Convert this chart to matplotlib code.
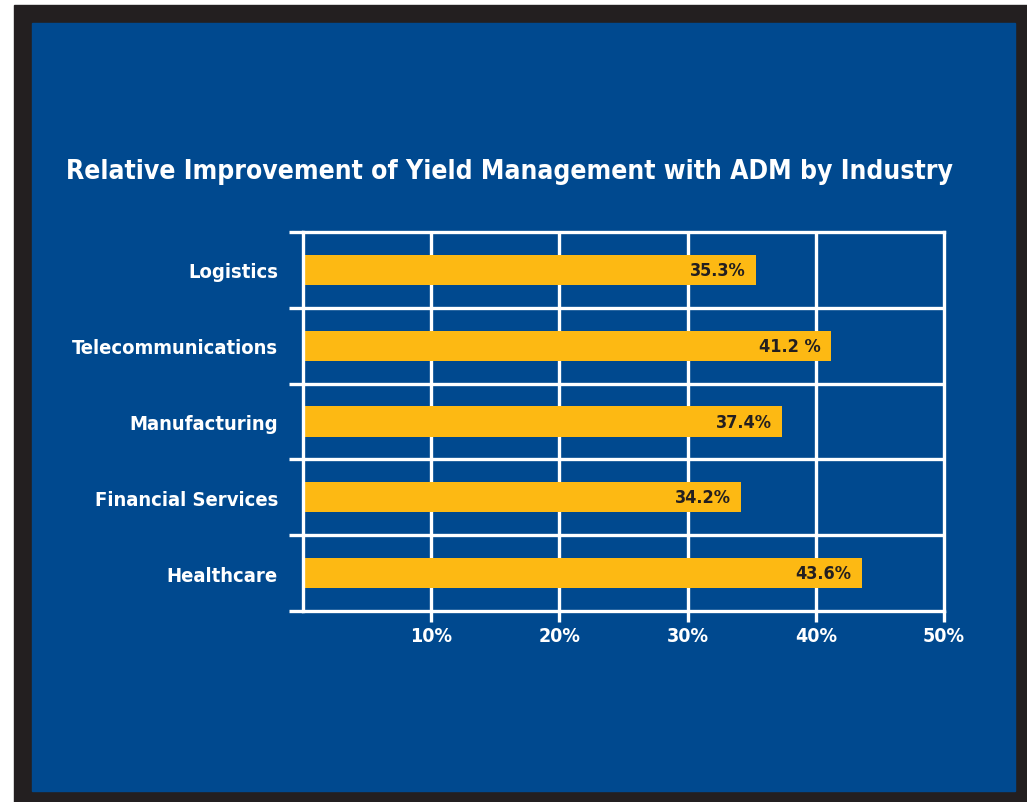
import matplotlib.pyplot as plt
from matplotlib.patches import Rectangle

industries = ['Logistics', 'Telecommunications', 'Manufacturing', 'Financial Services', 'Healthcare']
improvement = [35.3, 41.2, 37.4, 34.2, 43.6]
value_labels = ['35.3%', '41.2 %', '37.4%', '34.2%', '43.6%']
x_ticks = [10, 20, 30, 40, 50]
x_tick_labels = ['10%', '20%', '30%', '40%', '50%']

blue = '#00498f'
gold = '#fdb913'
dark = '#231f20'
font = ['DejaVu Sans']
stretch = 'condensed'

W, H = 1027, 803
fig = plt.figure(figsize=(W / 100, H / 100), dpi=100)
fig.patch.set_facecolor('white')

# frame: black border then blue panel
fig.patches.append(Rectangle((14 / W, 0), 1 - 14 / W, 1 - 6 / H,
                             transform=fig.transFigure, color=dark, zorder=-2))
fig.patches.append(Rectangle((32 / W, 1 - 792 / H), (1015 - 32) / W, (792 - 24) / H,
                             transform=fig.transFigure, color=blue, zorder=-1))

fig.text(510 / W, 1 - 172 / H, 'Relative Improvement of Yield Management with ADM by Industry',
         color='white', fontsize=19, fontweight='bold', family=font, fontstretch=stretch,
         ha='center', va='center')

ax = fig.add_axes([303 / W, 1 - 612 / H, (944 - 303) / W, (612 - 233) / H])
ax.set_facecolor('none')

ypos = list(range(len(industries)))
ax.barh(ypos, improvement, height=0.4, color=gold, zorder=2)
for y, v, lab in zip(ypos, improvement, value_labels):
    ax.text(v - 0.8, y, lab, ha='right', va='center', color=dark,
            fontsize=13, fontweight='bold', family=font, fontstretch=stretch, zorder=3)

ax.set_xlim(0, 50)
ax.set_ylim(len(industries) - 0.5, -0.5)

lw = 2.4
for s in ax.spines.values():
    s.set_color('white')
    s.set_linewidth(lw)

# category separators
for b in [0.5, 1.5, 2.5, 3.5]:
    ax.axhline(b, color='white', lw=lw, zorder=1)
for xv in x_ticks[:-1]:
    ax.axvline(xv, color='white', lw=lw, zorder=1)

ax.set_xticks(x_ticks)
ax.set_xticklabels(x_tick_labels)
ax.set_yticks(ypos)
ax.set_yticklabels(industries)
ax.set_yticks([-0.5, 0.5, 1.5, 2.5, 3.5, 4.5], minor=True)

ax.tick_params(axis='y', which='major', length=0, pad=18, colors='white', labelsize=14.5)
ax.tick_params(axis='y', which='minor', length=10, width=lw, color='white', direction='out')
ax.tick_params(axis='x', which='major', length=8, width=lw, color='white', direction='out',
               pad=3, labelcolor='white', labelsize=14)
for t in ax.get_xticklabels() + ax.get_yticklabels():
    t.set_fontweight('bold')
    t.set_family(font)
    t.set_fontstretch(stretch)

fig.savefig('out.png', dpi=100, facecolor=fig.get_facecolor())
